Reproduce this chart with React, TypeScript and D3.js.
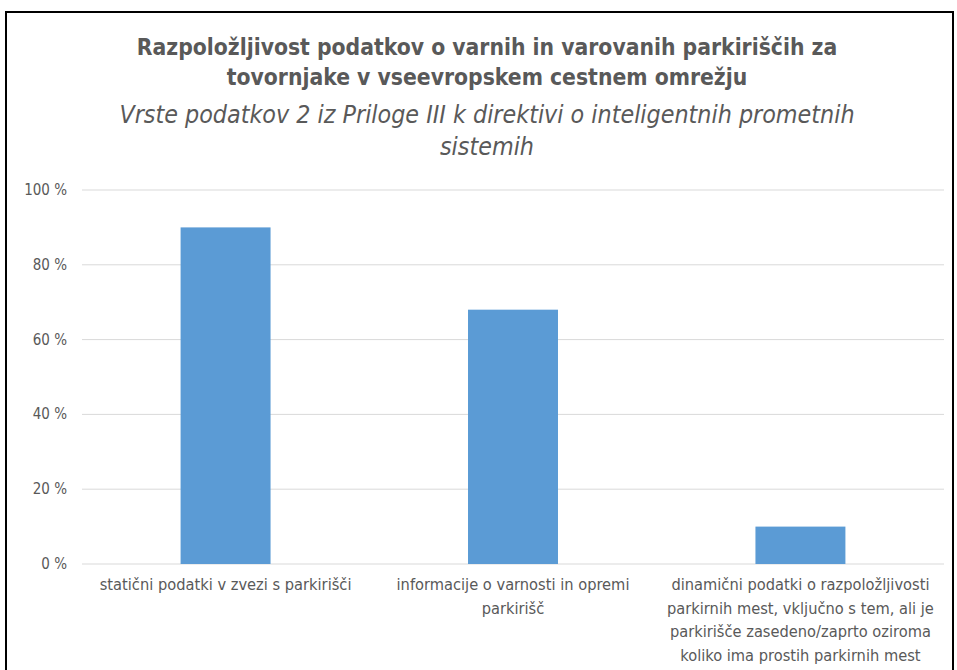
import { useRef, useEffect } from 'react';
import * as d3 from 'd3';

const W = 957;
const H = 670;

const titleLines = [
  'Razpoložljivost podatkov o varnih in varovanih parkiriščih  za',
  'tovornjake v vseevropskem cestnem omrežju',
];
const subtitleLines = [
  'Vrste podatkov 2 iz Priloge III k direktivi o inteligentnih prometnih',
  'sistemih',
];
const categories = [
  ['statični podatki v zvezi s parkirišči'],
  ['informacije o varnosti in opremi', 'parkirišč'],
  [
    'dinamični podatki o razpoložljivosti',
    'parkirnih mest, vključno s tem, ali je',
    'parkirišče zasedeno/zaprto oziroma',
    'koliko ima prostih parkirnih mest',
  ],
];
const values = [0.9, 0.68, 0.1];
const yTicks = [0, 0.2, 0.4, 0.6, 0.8, 1];

const FONT = "'DejaVu Sans Condensed', 'Open Sans', sans-serif";
const GRAY = '#595959';

export default function App() {
  const svgRef = useRef<SVGSVGElement>(null);

  useEffect(() => {
    const svg = d3.select(svgRef.current);
    svg.selectAll('*').remove();

    svg.append('rect')
      .attr('width', W).attr('height', H).attr('fill', '#fff');

    // chart frame
    svg.append('rect')
      .attr('x', 6).attr('y', 12)
      .attr('width', 947).attr('height', 700)
      .attr('fill', 'none').attr('stroke', '#000').attr('stroke-width', 2);

    const plot = { left: 82, right: 944, top: 190, bottom: 564 };

    const x = d3.scaleBand<number>()
      .domain(d3.range(values.length))
      .range([plot.left, plot.right])
      .paddingInner(0.687)
      .paddingOuter(0.343);

    const y = d3.scaleLinear().domain([0, 1]).range([plot.bottom, plot.top]);

    // titles
    svg.append('g').selectAll('text')
      .data(titleLines)
      .join('text')
      .attr('x', 487)
      .attr('y', (_, i) => 55 + i * 30)
      .attr('text-anchor', 'middle')
      .attr('font-family', FONT)
      .attr('font-size', 22.7)
      .attr('font-weight', 'bold')
      .attr('fill', GRAY)
      .text((d) => d);

    svg.append('g').selectAll('text')
      .data(subtitleLines)
      .join('text')
      .attr('x', 487)
      .attr('y', (_, i) => 123 + i * 32)
      .attr('text-anchor', 'middle')
      .attr('font-family', FONT)
      .attr('font-size', 24.8)
      .attr('font-style', 'italic')
      .attr('fill', GRAY)
      .text((d) => d);

    // gridlines
    svg.append('g').selectAll('line')
      .data(yTicks)
      .join('line')
      .attr('x1', plot.left).attr('x2', plot.right)
      .attr('y1', (d) => y(d)).attr('y2', (d) => y(d))
      .attr('stroke', '#d9d9d9').attr('stroke-width', 1);

    // y tick labels
    svg.append('g').selectAll('text')
      .data(yTicks)
      .join('text')
      .attr('x', 67)
      .attr('y', (d) => y(d) + 5)
      .attr('text-anchor', 'end')
      .attr('font-family', FONT)
      .attr('font-size', 15)
      .attr('fill', GRAY)
      .text((d) => `${Math.round(d * 100)} %`);

    // bars
    svg.append('g').selectAll('rect')
      .data(values)
      .join('rect')
      .attr('x', (_, i) => x(i)!)
      .attr('y', (d) => y(d))
      .attr('width', x.bandwidth())
      .attr('height', (d) => y(0) - y(d))
      .attr('fill', '#5b9bd5');

    // category labels
    const labels = svg.append('g').selectAll('text')
      .data(categories)
      .join('text')
      .attr('text-anchor', 'middle')
      .attr('font-family', FONT)
      .attr('font-size', 16.3)
      .attr('fill', GRAY);
    labels.each(function (lines, i) {
      const cx = x(i)! + x.bandwidth() / 2;
      d3.select(this).selectAll('tspan')
        .data(lines)
        .join('tspan')
        .attr('x', cx)
        .attr('y', (_, j) => 590 + j * 23.5)
        .text((d) => d);
    });
  }, []);

  return (
    <svg
      ref={svgRef}
      width={W}
      height={H}
      style={{ position: 'absolute', left: 0, top: 0, display: 'block' }}
    />
  );
}
